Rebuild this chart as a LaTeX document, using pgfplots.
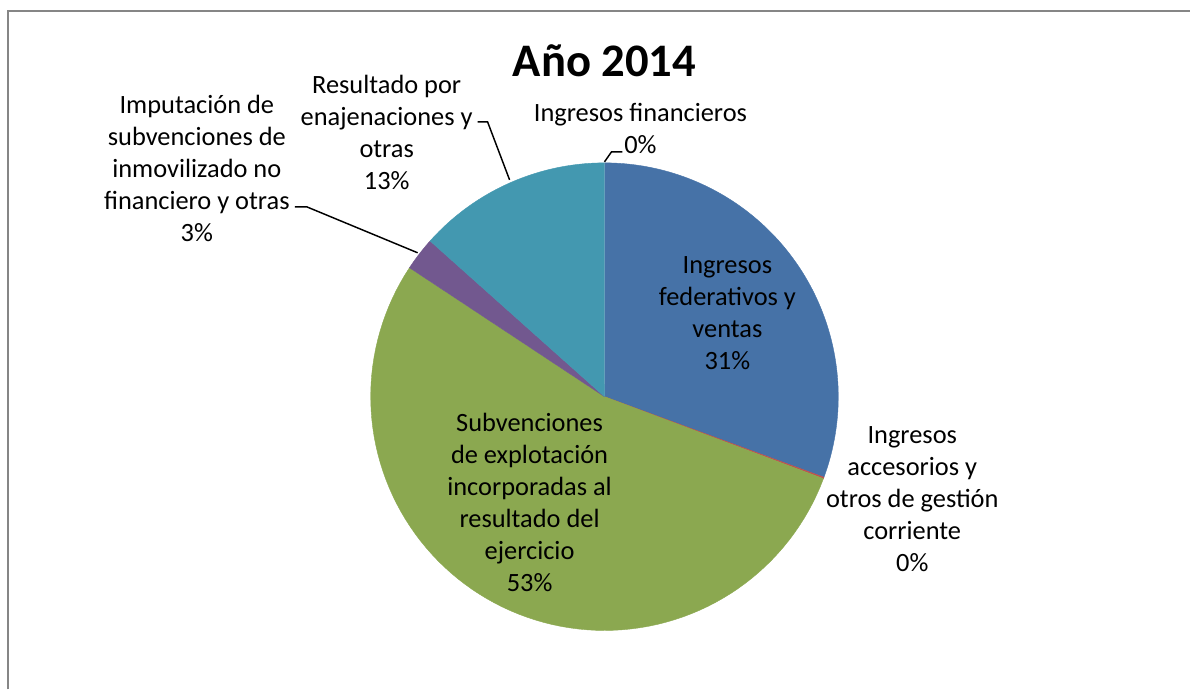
\documentclass[border=0pt]{standalone}
\usepackage{fontspec}
\setmainfont{Carlito}
\usepackage{pgfplots}
\pgfplotsset{compat=1.18}
\usepackage{pgfplotstable}

\definecolor{cfed}{RGB}{70,114,167}
\definecolor{cacc}{RGB}{192,80,77}
\definecolor{csub}{RGB}{139,168,80}
\definecolor{cimp}{RGB}{114,88,143}
\definecolor{cena}{RGB}{67,152,176}
\definecolor{frame}{RGB}{134,134,134}

% share of each slice, in percent, clockwise from 12 o'clock
\pgfplotstableread{
slice pct
fed 30.6
acc 0.1
sub 53.6
imp 2.3
ena 13.4
fin 0.0
}\piedata

\newcommand\getpct[2]{\pgfplotstablegetelem{#1}{pct}\of\piedata\let#2\pgfplotsretval}

% one slice: colour, start angle, end angle (degrees, clockwise from top)
\newcommand\slice[3]{%
  \addplot[fill=#1, draw=#1, line width=0.3pt, domain=#2:#3, samples=90, variable=\t]
    ({605+234*sin(\t)}, {397-234*cos(\t)}) -- (axis cs:605,397) -- cycle;}

\begin{document}
\begin{tikzpicture}[lbl/.style={font=\fontsize{19.8}{24}\selectfont, align=center, inner sep=0pt}]
\getpct{0}\pA \getpct{1}\pB \getpct{2}\pC \getpct{3}\pD \getpct{4}\pE
\pgfmathsetmacro\aA{3.6*\pA}
\pgfmathsetmacro\aB{\aA+3.6*\pB}
\pgfmathsetmacro\aC{\aB+3.6*\pC}
\pgfmathsetmacro\aD{\aC+3.6*\pD}
\pgfmathsetmacro\aE{\aD+3.6*\pE}
\begin{axis}[scale only axis, width=893.25pt, height=517.5pt,
  xmin=0, xmax=1191, ymin=0, ymax=690, y dir=reverse,
  hide axis, clip=false]
\path (axis cs:0,0) rectangle (axis cs:1191,690);
\draw[line width=1.5pt, frame] (axis cs:8,690) -- (axis cs:8,11) -- (axis cs:1191,11);

\slice{cfed}{0}{\aA}
\slice{cacc}{\aA}{\aB}
\slice{csub}{\aB}{\aC}
\slice{cimp}{\aC}{\aD}
\slice{cena}{\aD}{\aE}

\node[font=\fontsize{35}{40}\selectfont\bfseries, anchor=base] at (axis cs:605,77) {Año 2014};

\node[lbl] at (axis cs:728,313) {Ingresos\\federativos y\\ventas\\31\%};
\node[lbl] at (axis cs:913,500) {Ingresos\\accesorios y\\otros de gestión\\corriente\\0\%};
\node[lbl] at (axis cs:530,503) {Subvenciones\\de explotación\\incorporadas al\\resultado del\\ejercicio\\53\%};
\node[lbl] at (axis cs:197,169) {Imputación de\\subvenciones de\\inmovilizado no\\financiero y otras\\3\%};
\node[lbl] at (axis cs:387,133) {Resultado por\\enajenaciones y\\otras\\13\%};
\node[lbl] at (axis cs:641,129) {Ingresos financieros\\0\%};

\draw[line width=1.1pt] (axis cs:295,207) -- (axis cs:307,207) -- (axis cs:418,253);
\draw[line width=1.1pt] (axis cs:478,122) -- (axis cs:488,122) -- (axis cs:510,180);
\draw[line width=1.1pt] (axis cs:623,152) -- (axis cs:612,152) -- (axis cs:605,162);
\end{axis}
\end{tikzpicture}
\end{document}
